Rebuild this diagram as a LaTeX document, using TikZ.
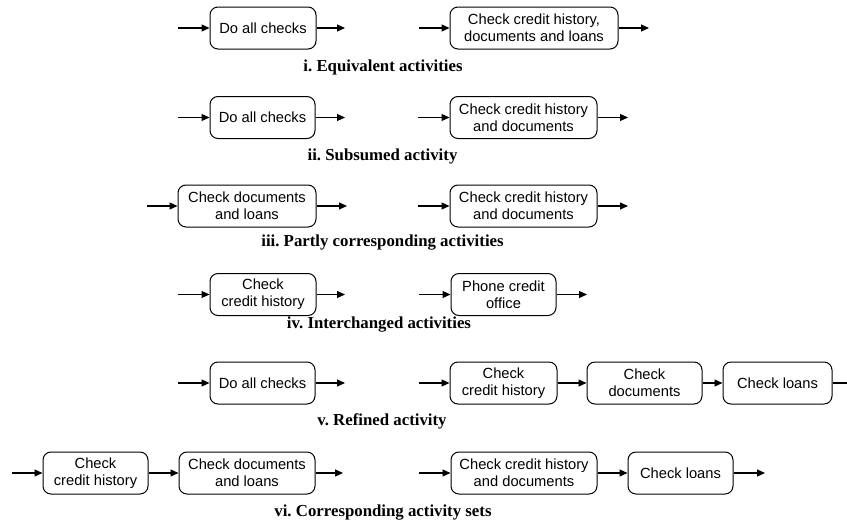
\documentclass[tikz,border=0pt]{standalone}
\usepackage{fontspec}
\setmainfont{Liberation Serif}
\newfontfamily\boxfont{Liberation Sans}
\usetikzlibrary{arrows.meta}
\frenchspacing
\tikzset{
  actbox/.style={draw, line width=1pt, rounded corners=8pt, minimum height=42pt,
    align=center, inner sep=0pt, font=\boxfont\fontsize{14.7}{17}\selectfont},
  arr/.style={line width=1.1pt, -{Triangle[length=8pt,width=7pt]}},
  plainline/.style={line width=1.1pt},
  caption/.style={font=\fontsize{16.8}{19}\selectfont\bfseries, inner sep=0pt}
}
\begin{document}
\begin{tikzpicture}[x=1pt,y=-1pt]
\useasboundingbox (0,0) rectangle (847,522);
% ---------- Row i ----------
\node[actbox, minimum width=106pt] (a1) at (263,28) {Do all checks};
\node[actbox, minimum width=168pt] (a2) at (534,28) {Check credit history,\\documents and loans};
\coordinate (a1in) at (178,28); \coordinate (a1out) at (345,28);
\coordinate (a2in) at (419,28); \coordinate (a2out) at (649,28);
\draw[arr] (a1in) -- (a1); \draw[arr] (a1) -- (a1out);
\draw[arr] (a2in) -- (a2); \draw[arr] (a2) -- (a2out);
\node[caption] (capi) at (383,67) {i. Equivalent activities};
% ---------- Row ii ----------
\node[actbox, minimum width=105pt] (b1) at (262.5,117.5) {Do all checks};
\node[actbox, minimum width=147pt] (b2) at (523.5,117.5) {Check credit history\\and documents};
\coordinate (b1in) at (178,117.5); \coordinate (b1out) at (345,117.5);
\coordinate (b2in) at (418,117.5); \coordinate (b2out) at (628,117.5);
\draw[arr] (b1in) -- (b1); \draw[arr] (b1) -- (b1out);
\draw[arr] (b2in) -- (b2); \draw[arr] (b2) -- (b2out);
\node[caption] (capii) at (382.5,156) {ii. Subsumed activity};
% ---------- Row iii ----------
\node[actbox, minimum width=138pt] (c1) at (247,206) {Check documents\\and loans};
\node[actbox, minimum width=147pt] (c2) at (523.5,206) {Check credit history\\and documents};
\coordinate (c1in) at (147,206); \coordinate (c1out) at (347,206);
\coordinate (c2in) at (418,206); \coordinate (c2out) at (628,206);
\draw[arr] (c1in) -- (c1); \draw[arr] (c1) -- (c1out);
\draw[arr] (c2in) -- (c2); \draw[arr] (c2) -- (c2out);
\node[caption] (capiii) at (382.5,243) {iii. Partly corresponding activities};
% ---------- Row iv ----------
\node[actbox, minimum width=106pt] (d1) at (263,294.5) {Check\\credit history};
\node[actbox, minimum width=105pt] (d2) at (503.5,294.5) {Phone credit\\office};
\coordinate (d1in) at (178,294.5); \coordinate (d1out) at (345,294.5);
\coordinate (d2in) at (419,294.5); \coordinate (d2out) at (587,294.5);
\draw[arr] (d1in) -- (d1); \draw[arr] (d1) -- (d1out);
\draw[arr] (d2in) -- (d2); \draw[arr] (d2) -- (d2out);
\node[caption] (capiv) at (379,325) {iv. Interchanged activities};
% ---------- Row v ----------
\node[actbox, minimum width=105pt] (e1) at (262.5,383) {Do all checks};
\node[actbox, minimum width=107pt] (e2) at (503.5,383) {Check\\credit history};
\node[actbox, minimum width=115pt] (e3) at (644.5,383) {Check\\documents};
\node[actbox, minimum width=109pt] (e4) at (777.5,383) {Check loans};
\coordinate (e1in) at (178,383); \coordinate (e1out) at (345,383);
\coordinate (e2in) at (419,383); \coordinate (e4out) at (847,383);
\draw[arr] (e1in) -- (e1); \draw[arr] (e1) -- (e1out);
\draw[arr] (e2in) -- (e2); \draw[arr] (e2) -- (e3); \draw[arr] (e3) -- (e4);
\draw[plainline] (e4) -- (e4out);
\node[caption] (capv) at (382,421) {v. Refined activity};
% ---------- Row vi ----------
\node[actbox, minimum width=105pt] (f1) at (95.5,473) {Check\\credit history};
\node[actbox, minimum width=136pt] (f2) at (247,473) {Check documents\\and loans};
\node[actbox, minimum width=146pt] (f3) at (524,473) {Check credit history\\and documents};
\node[actbox, minimum width=105pt] (f4) at (680.5,473) {Check loans};
\coordinate (f1in) at (12,473); \coordinate (f2out) at (343,473);
\coordinate (f3in) at (419,473); \coordinate (f4out) at (765,473);
\draw[arr] (f1in) -- (f1); \draw[arr] (f1) -- (f2); \draw[arr] (f2) -- (f2out);
\draw[arr] (f3in) -- (f3); \draw[arr] (f3) -- (f4); \draw[arr] (f4) -- (f4out);
\node[caption] (capvi) at (383,513) {vi. Corresponding activity sets};
\end{tikzpicture}
\end{document}
